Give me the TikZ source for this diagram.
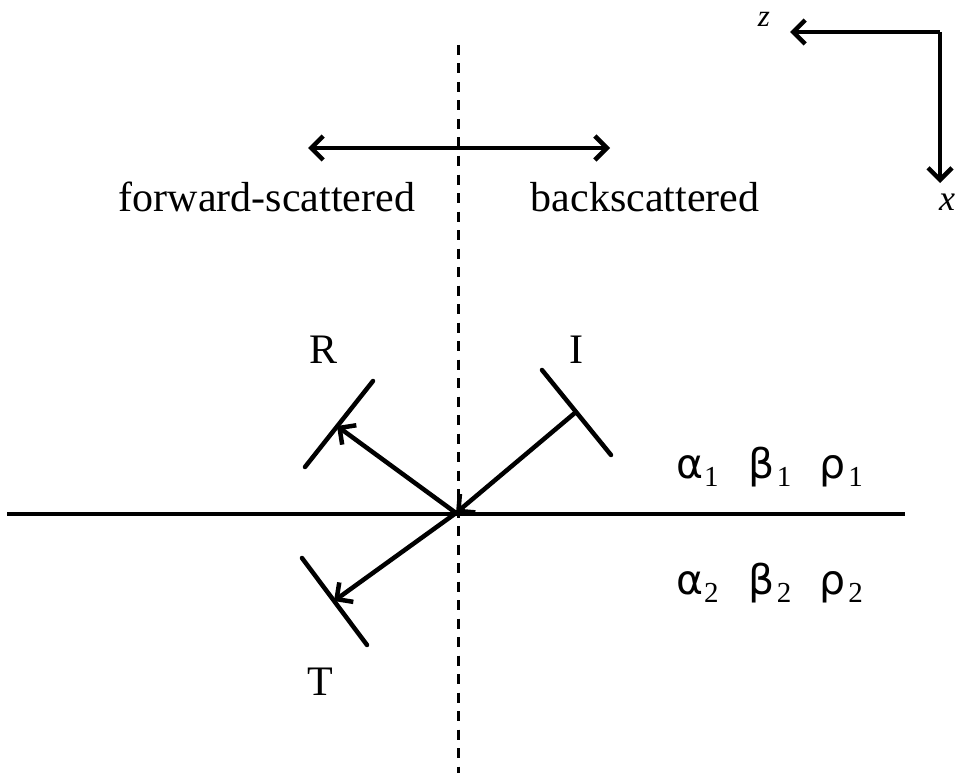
\documentclass[tikz,border=0pt]{standalone}
\usepackage{fontspec}
\setmainfont{Liberation Serif}
\newfontfamily\gk{DejaVu Sans}
\usetikzlibrary{arrows.meta}
\newcommand{\subfnt}{\fontsize{29}{29}\selectfont}
\newcommand{\grow}[1]{{\gk α}\kern1pt\raisebox{-8pt}{\subfnt #1}\hspace{30pt}{\gk β}\kern2pt\raisebox{-8pt}{\subfnt #1}\hspace{28pt}{\gk ρ}\kern3pt\raisebox{-8pt}{\subfnt #1}}
\tikzset{
  barb/.tip={Straight Barb[length=12pt,width=24pt,line width=4.5pt]},
  wave/.style={line width=4.5pt,-barb},
  front/.style={line width=4.5pt,line cap=round},
  lbl/.style={font=\fontsize{42}{42}\selectfont,inner sep=0pt,anchor=base},
  ax/.style={font=\fontsize{36}{36}\selectfont\itshape,inner sep=0pt,anchor=base},
  grk/.style={font=\fontsize{41}{41}\selectfont,inner sep=0pt,anchor=base west},
}
\begin{document}
\begin{tikzpicture}[x=1pt,y=-1pt]
\useasboundingbox (0,0) rectangle (961,773);
% interface and normal
\coordinate (O) at (456,513);
\coordinate (dtop) at (458,45);
\coordinate (dbot) at (458,773);
\coordinate (hl) at (7,514);
\coordinate (hr) at (905,514);
\draw[line width=3pt,dash pattern=on 10pt off 8.5pt] (dtop) -- (dbot);
\draw[line width=4.5pt] (hl) -- (hr);
% scattering direction arrow
\coordinate (sl) at (308,148);
\coordinate (sr) at (610,148);
\draw[line width=4.5pt,barb-barb] (sl) -- (sr);
\node[lbl] (fw) at (267,211) {forward-scattered};
\node[lbl] (bk) at (645,211) {backscattered};
% axes
\coordinate (ac) at (940,32);
\coordinate (az) at (790,32);
\coordinate (axx) at (940,183);
\draw[wave] (ac) -- (az);
\draw[wave] (ac) -- (axx);
\node[ax,font=\fontsize{31}{31}\selectfont\itshape] (zl) at (764,27) {z};
\node[ax] (xl) at (947,210) {x};
% incident wave
\coordinate (I1) at (542,370);
\coordinate (I2) at (611,455);
\coordinate (Ic) at (576,412);
\draw[front] (I1) -- (I2);
\draw[wave] (Ic) -- (O);
% reflected wave
\coordinate (R1) at (373,381);
\coordinate (R2) at (305,467);
\coordinate (Rc) at (337,426);
\draw[front] (R1) -- (R2);
\draw[wave] (O) -- (Rc);
% transmitted wave
\coordinate (T1) at (302,558);
\coordinate (T2) at (367,645);
\coordinate (Tc) at (334,601);
\draw[front] (T1) -- (T2);
\draw[wave] (O) -- (Tc);
% labels
\node[lbl] (Rl) at (324,363) {R};
\node[lbl] (Il) at (576,363) {I};
\node[lbl] (Tl) at (320,695) {T};
\node[grk] (m1) at (676,478) {\grow{1}};
\node[grk] (m2) at (676,594) {\grow{2}};
\end{tikzpicture}
\end{document}
